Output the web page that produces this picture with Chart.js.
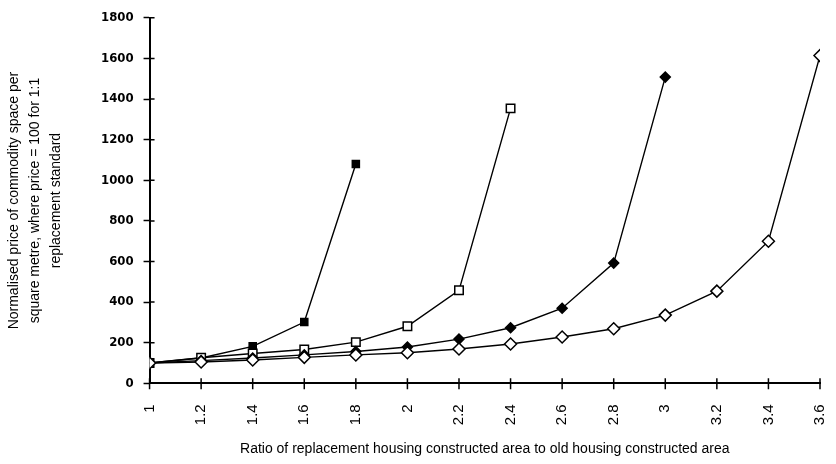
<!DOCTYPE html>
<html>
<head>
<meta charset="utf-8">
<script src="https://cdn.jsdelivr.net/npm/chart.js@4.4.1/dist/chart.umd.min.js"></script>
<style>
  html, body { margin: 0; padding: 0; background: #fff; }
  #wrap { width: 836px; height: 464px; }
</style>
</head>
<body>
<div id="wrap"><canvas id="priceChart"></canvas></div>
<script>
// ratio of replacement area to old area
const ratios = [1, 1.2, 1.4, 1.6, 1.8, 2, 2.2, 2.4, 2.6, 2.8, 3, 3.2, 3.4, 3.6];
const yTicks = [0, 200, 400, 600, 800, 1000, 1200, 1400, 1600, 1800];

// normalised price, one array per curve
const filledSquare = [100, 125, 182, 302, 1080];
const openSquare = [100, 126, 147, 167, 203, 281, 458, 1354];
const filledDiamond = [100, 112, 125, 140, 157, 179, 218, 274, 370, 592, 1508];
const openDiamond = [100, 105, 115, 128, 140, 151, 169, 194, 228, 269, 336, 454, 700, 1614];

const pts = vals => vals.map((v, i) => ({ x: ratios[i], y: v }));

function series(vals, style, fill, r, order) {
  return {
    data: pts(vals),
    borderColor: '#000',
    borderWidth: 1.4,
    pointStyle: style,
    pointBackgroundColor: fill,
    pointBorderColor: '#000',
    pointBorderWidth: 1.5,
    pointRadius: r,
    tension: 0,
    order: order
  };
}

// ticks in the original cross the axis line, so draw them by hand
const crossTicks = {
  id: 'crossTicks',
  afterDraw(chart) {
    const c = chart.ctx, xs = chart.scales.x, ys = chart.scales.y;
    c.save();
    c.strokeStyle = '#000';
    c.lineWidth = 1.5;
    c.beginPath();
    ratios.forEach(v => {
      const px = xs.getPixelForValue(v);
      c.moveTo(px, ys.bottom - 5);
      c.lineTo(px, ys.bottom + 6);
    });
    yTicks.forEach(v => {
      const py = ys.getPixelForValue(v);
      c.moveTo(xs.left, py);
      c.lineTo(xs.left + 5, py);
    });
    c.stroke();
    c.restore();
  }
};

new Chart(document.getElementById('priceChart'), {
  type: 'line',
  data: {
    datasets: [
      series(filledSquare, 'rect', '#000', 5, 4),
      series(openSquare, 'rect', '#fff', 6, 3),
      series(filledDiamond, 'rectRot', '#000', 5, 2),
      series(openDiamond, 'rectRot', '#fff', 6, 1)
    ]
  },
  options: {
    responsive: true,
    maintainAspectRatio: false,
    animation: false,
    layout: { padding: { top: 10, right: 0, left: 0, bottom: 2 } },
    plugins: { legend: { display: false }, tooltip: { enabled: false } },
    scales: {
      x: {
        type: 'linear',
        min: 1,
        max: 3.6,
        afterBuildTicks: axis => { axis.ticks = ratios.map(v => ({ value: v })); },
        afterFit: axis => { axis.paddingRight = 16; },
        ticks: {
          minRotation: 90,
          maxRotation: 90,
          color: '#000',
          padding: 0,
          font: { family: 'Liberation Sans', size: 15 },
          callback: v => String(Number(v.toFixed(1)))
        },
        grid: { drawOnChartArea: false, color: 'transparent', tickLength: 21 },
        border: { color: '#000', width: 2 },
        title: {
          display: true,
          text: 'Ratio of replacement housing constructed area to old housing constructed area',
          color: '#000',
          font: { family: 'Liberation Sans', size: 14 },
          padding: { top: 16 }
        }
      },
      y: {
        min: 0,
        max: 1800,
        afterBuildTicks: axis => { axis.ticks = yTicks.map(v => ({ value: v })); },
        ticks: {
          color: '#000',
          padding: 10,
          font: { family: 'DejaVu Sans Condensed', size: 13, weight: 'bold' },
          callback: v => String(v)
        },
        grid: { drawOnChartArea: false, color: '#000', tickLength: 6, tickWidth: 1.5 },
        border: { color: '#000', width: 2 },
        title: {
          display: true,
          text: ['Normalised price of commodity space per',
                 'square metre, where price = 100 for 1:1',
                 'replacement standard'],
          color: '#000',
          font: { family: 'Liberation Sans', size: 14, lineHeight: 1.5 },
          padding: { bottom: 24 }
        }
      }
    }
  },
  plugins: [crossTicks]
});
</script>
</body>
</html>
